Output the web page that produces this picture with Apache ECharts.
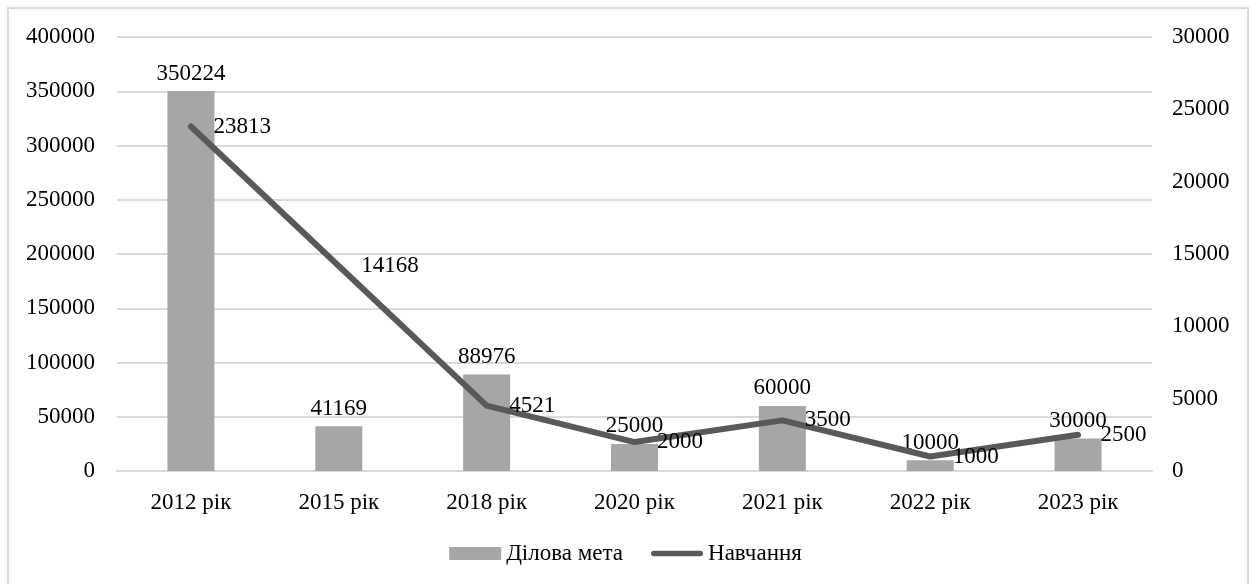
<!DOCTYPE html>
<html>
<head>
<meta charset="utf-8">
<script src="https://cdn.jsdelivr.net/npm/echarts@6/dist/echarts.min.js"></script>
<style>
  html, body { margin: 0; padding: 0; background: #fff; }
  #chart { width: 1251px; height: 584px; }
</style>
</head>
<body>
<div id="chart"></div>
<script>
  // дані діаграми
  var categories = ['2012 рік', '2015 рік', '2018 рік', '2020 рік', '2021 рік', '2022 рік', '2023 рік'];
  var businessGoal = [350224, 41169, 88976, 25000, 60000, 10000, 30000];
  var training = [23813, 14168, 4521, 2000, 3500, 1000, 2500];

  var font = 'Liberation Serif';
  var fs = 23;
  var plain = function (v) { return String(v); };
  var myChart = echarts.init(document.getElementById('chart'));

  myChart.setOption({
    animation: false,
    textStyle: { fontFamily: font },
    graphic: [{
      type: 'rect',
      shape: { x: 8, y: 8, width: 1240, height: 600 },
      style: { fill: 'none', stroke: '#d9d9d9', lineWidth: 2 },
      silent: true
    }],
    grid: { left: 117, right: 99, top: 37, bottom: 113 },
    legend: {
      bottom: 14,
      left: 'center',
      itemGap: 28,
      itemWidth: 52,
      itemHeight: 13,
      textStyle: { fontFamily: font, fontSize: fs, color: '#000' },
      data: [
        { name: 'Ділова мета', icon: 'rect', textStyle: { fontFamily: font, fontSize: fs } },
        { name: 'Навчання', icon: 'path://M3,0 L55,0 A3,3 0 0 1 55,6 L3,6 A3,3 0 0 1 3,0 Z',
          textStyle: { fontFamily: font, fontSize: fs } }
      ]
    },
    xAxis: {
      type: 'category',
      data: categories,
      axisLine: { lineStyle: { color: '#d9d9d9', width: 2 } },
      axisTick: { show: false },
      axisLabel: { fontFamily: font, fontSize: fs, color: '#000', margin: 20 }
    },
    yAxis: [
      {
        type: 'value',
        min: 0, max: 400000, interval: 50000,
        axisLine: { show: false },
        axisTick: { show: false },
        splitLine: { lineStyle: { color: '#d9d9d9', width: 2 } },
        axisLabel: { fontFamily: font, fontSize: fs, color: '#000', margin: 22, formatter: plain }
      },
      {
        type: 'value',
        min: 0, max: 30000, interval: 5000,
        axisLine: { show: false },
        axisTick: { show: false },
        splitLine: { show: false },
        axisLabel: { fontFamily: font, fontSize: fs, color: '#000', margin: 20, formatter: plain }
      }
    ],
    series: [
      {
        name: 'Ділова мета',
        type: 'bar',
        yAxisIndex: 0,
        barWidth: 47,
        itemStyle: { color: '#a8a5a6' },
        label: {
          show: true, position: 'top', distance: 6,
          fontFamily: font, fontSize: fs, color: '#000'
        },
        data: businessGoal
      },
      {
        name: 'Навчання',
        type: 'line',
        yAxisIndex: 1,
        symbol: 'circle',
        symbolSize: 1,
        itemStyle: { color: '#595959' },
        lineStyle: { color: '#595959', width: 6, cap: 'round', join: 'round' },
        label: {
          show: true, position: 'right', distance: 22,
          fontFamily: font, fontSize: fs, color: '#000'
        },
        data: training
      }
    ]
  });
</script>
</body>
</html>
